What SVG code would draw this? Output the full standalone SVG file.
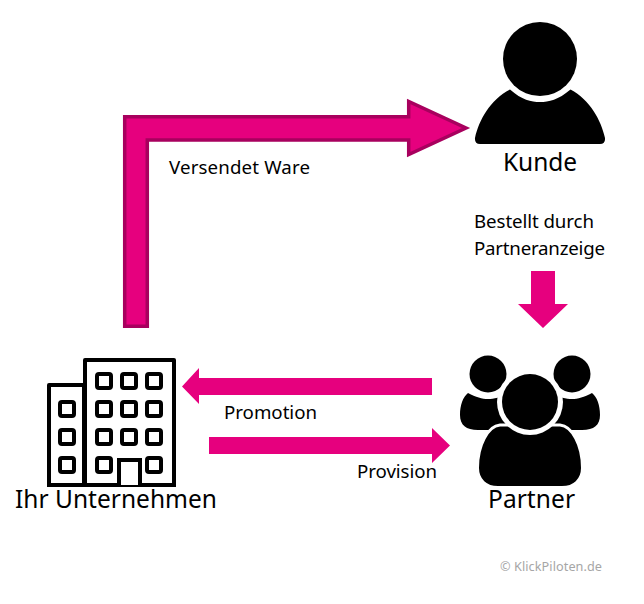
<svg xmlns="http://www.w3.org/2000/svg" width="644" height="604" viewBox="0 0 644 604">
<style>
text{font-family:"Noto Sans","Open Sans",sans-serif;fill:#000}
.lg{font-size:24.500px}
.sm{font-size:18.700px}
.ar{fill:#E6007E}
.bl{stroke:#000;stroke-width:4;fill:#fff;stroke-linejoin:round}
.win{stroke:#000;stroke-width:4;fill:#fff}
.cut{fill:#000;stroke:#fff;stroke-width:3}
</style>
<rect width="644" height="604" fill="#fff"/>
<g id="connectors">
<path class="ar" stroke="#A8005E" stroke-width="3.500" d="M124.700 326.300V116.700H408.700V101.500L466 128L408.700 154.500V140H147.300V326.300Z"/>
<path class="ar" d="M531 271H555V304H568L543 328L518 304H531Z"/>
<path class="ar" d="M432 378V395H199V404L182 386.500L199 368V378Z"/>
<path class="ar" d="M209 437V454H432V463L450 445.500L432 428V437Z"/>
</g>
<g id="kunde">
<circle cx="540" cy="59" r="37"/>
<path d="M510 89.500C522 100 531 102 540 102C549 102 558 100 570.500 89.500C590 100 601 120 605 138Q605.500 144 600 144H480Q474.500 144 475 138C479 120 490 100 510 89.500Z"/>
<text class="lg" x="503" y="171" textLength="74">Kunde</text>
</g>
<g id="partner">
<circle cx="488" cy="374" r="18.500"/>
<circle cx="572" cy="374" r="18.500"/>
<path d="M468 393C476 397 482 399 488 399C494 399 500 398 510 392V430H478C466 430 460 425 460 415C460 405 463 397 468 393Z"/>
<path d="M592 393C584 397 578 399 572 399C566 399 560 398 550 392V430H582C594 430 600 425 600 415C600 405 597 397 592 393Z"/>
<path fill="#000" stroke="#fff" stroke-width="3" d="M500 425C488 426 477.500 445 477.500 468C477.500 480 486 487.500 498 487.500H562C574 487.500 582.500 480 582.500 468C582.500 445 572 426 560 425Z"/>
<circle cx="530" cy="402" r="33" fill="#fff"/>
<circle cx="530" cy="402" r="28"/>
<text class="lg" x="488" y="508" textLength="87">Partner</text>
</g>
<g id="unternehmen">
<rect class="bl" x="49" y="385" width="35" height="100"/>
<rect class="bl" x="85" y="360" width="89" height="125"/>
<path d="M47 485H176" stroke="#000" stroke-width="4"/>
<g class="win">
<rect x="97" y="374" width="14" height="14" rx="2"/><rect x="122" y="374" width="14" height="14" rx="2"/><rect x="147" y="374" width="14" height="14" rx="2"/>
<rect x="97" y="402" width="14" height="14" rx="2"/><rect x="122" y="402" width="14" height="14" rx="2"/><rect x="147" y="402" width="14" height="14" rx="2"/>
<rect x="97" y="430" width="14" height="14" rx="2"/><rect x="122" y="430" width="14" height="14" rx="2"/><rect x="147" y="430" width="14" height="14" rx="2"/>
<rect x="97" y="458" width="14" height="14" rx="2"/><rect x="147" y="458" width="14" height="14" rx="2"/>
<rect x="60" y="402" width="14" height="14" rx="2"/><rect x="60" y="430" width="14" height="14" rx="2"/><rect x="60" y="458" width="14" height="14" rx="2"/>
</g>
<path d="M119 485V460H140V485" fill="#fff" stroke="#000" stroke-width="4"/>
<text class="lg" x="15" y="508" textLength="202">Ihr Unternehmen</text>
</g>
<g id="labels">
<text class="sm" x="169" y="174" textLength="141">Versendet Ware</text>
<text class="sm" x="474" y="228" textLength="120">Bestellt durch</text>
<text class="sm" x="474" y="255" textLength="131">Partneranzeige</text>
<text class="sm" x="224" y="419" textLength="93">Promotion</text>
<text class="sm" x="357" y="478" textLength="80">Provision</text>
<text x="500" y="571" textLength="102" style="font-size:12.700px;fill:#A6A6A6">© KlickPiloten.de</text>
</g>
</svg>
